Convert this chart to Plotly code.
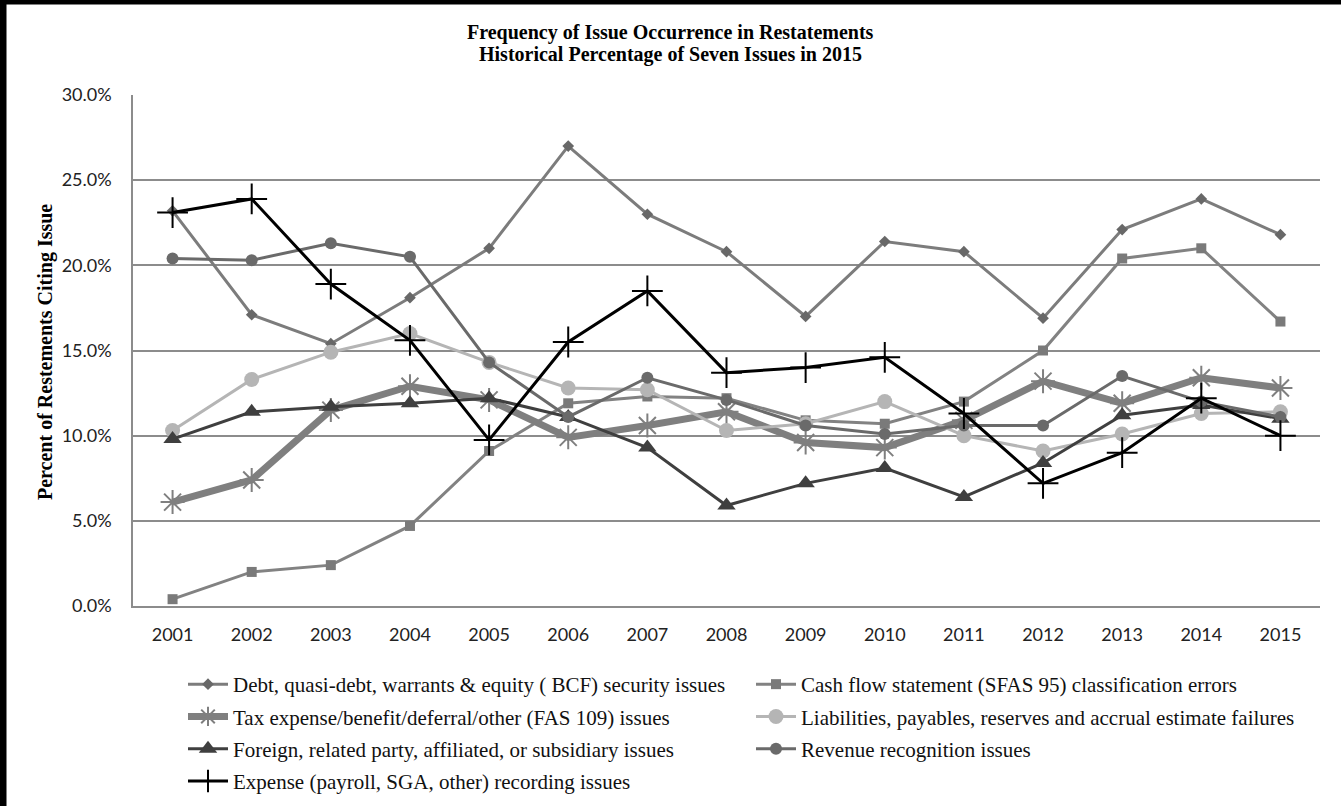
import plotly.graph_objects as go

years = ["2001", "2002", "2003", "2004", "2005", "2006", "2007", "2008",
         "2009", "2010", "2011", "2012", "2013", "2014", "2015"]

debt = [23.2, 17.1, 15.4, 18.1, 21.0, 27.0, 23.0, 20.8, 17.0, 21.4, 20.8, 16.9, 22.1, 23.9, 21.8]
cash_flow = [0.4, 2.0, 2.4, 4.7, 9.1, 11.9, 12.3, 12.2, 10.9, 10.7, 12.0, 15.0, 20.4, 21.0, 16.7]
tax = [6.1, 7.4, 11.5, 12.9, 12.1, 9.9, 10.6, 11.4, 9.6, 9.3, 10.9, 13.2, 11.9, 13.4, 12.8]
liabilities = [10.3, 13.3, 14.9, 16.0, 14.3, 12.8, 12.7, 10.3, 10.7, 12.0, 10.0, 9.1, 10.1, 11.3, 11.4]
foreign = [9.8, 11.4, 11.7, 11.9, 12.2, 11.1, 9.3, 5.9, 7.2, 8.1, 6.4, 8.4, 11.2, 11.8, 11.0]
revenue = [20.4, 20.3, 21.3, 20.5, 14.3, 11.1, 13.4, 12.1, 10.6, 10.1, 10.6, 10.6, 13.5, 12.0, 11.1]
expense = [23.1, 23.9, 18.9, 15.6, 9.75, 15.5, 18.5, 13.7, 14.0, 14.6, 11.3, 7.2, 9.0, 12.2, 10.0]

names = [
    "Debt, quasi-debt, warrants & equity ( BCF) security issues",
    "Cash flow statement (SFAS 95) classification errors",
    "Tax expense/benefit/deferral/other (FAS 109) issues",
    "Liabilities, payables, reserves and accrual estimate failures",
    "Foreign, related party, affiliated, or subsidiary issues",
    "Revenue recognition issues",
    "Expense (payroll, SGA, other) recording issues",
]

styles = [
    dict(values=debt, color="#7c7c7c", mcolor="#686868", width=3, symbol="diamond", size=9, mline=0, leg="legend"),
    dict(values=cash_flow, color="#828282", mcolor="#7a7a7a", width=3, symbol="square", size=10, mline=0, leg="legend2"),
    dict(values=tax, color="#7f7f7f", mcolor="#7f7f7f", width=7, symbol="asterisk-open", size=20, mline=2, leg="legend"),
    dict(values=liabilities, color="#b5b5b5", mcolor="#b5b5b5", width=3, symbol="circle", size=15, mline=0, leg="legend2"),
    dict(values=foreign, color="#3f3f3f", mcolor="#3f3f3f", width=3, symbol="triangle-up", size=16, mline=0, leg="legend"),
    dict(values=revenue, color="#6a6a6a", mcolor="#6a6a6a", width=3, symbol="circle", size=12, mline=0, leg="legend2"),
    dict(values=expense, color="#000000", mcolor="#000000", width=3, symbol="cross-thin-open", size=22, mline=2, leg="legend"),
]

fig = go.Figure()
for i, (name, s) in enumerate(zip(names, styles)):
    fig.add_trace(go.Scatter(
        x=years, y=s["values"], name=name, mode="lines+markers",
        legend=s["leg"], legendgroup="g%d" % i,
        line=dict(color=s["color"], width=s["width"]),
        marker=dict(symbol=s["symbol"], size=s["size"], color=s["mcolor"],
                    line=dict(color=s["mcolor"], width=s["mline"])),
    ))

W, H = 1341, 806
L, R, T, B = 133, 21, 95, 200
PW, PH = W - L - R, H - T - B


def px(x):
    return (x - L) / PW


def py(y):
    return (H - B - y) / PH


legend_common = dict(
    orientation="v", xref="container", yref="container",
    xanchor="left", yanchor="top",
    font=dict(family="Liberation Serif", size=21, color="#111111"),
    itemwidth=40, bgcolor="rgba(0,0,0,0)", tracegroupgap=2,
    traceorder="grouped",
)

fig.update_layout(
    width=W, height=H,
    margin=dict(l=L, r=R, t=T, b=B, autoexpand=False),
    paper_bgcolor="white", plot_bgcolor="white",
    showlegend=True,
    legend=dict(legend_common, x=183 / W, y=1 - 664 / H),
    legend2=dict(legend_common, x=751 / W, y=1 - 664 / H),
    xaxis=dict(
        type="category", range=[-0.5, 14.5],
        showgrid=False, showline=True, linecolor="#8c8c8c", linewidth=2,
        ticks="", tickfont=dict(family="Lato", size=18, color="#222222"),
        ticklabelstandoff=11, fixedrange=True,
    ),
    yaxis=dict(
        range=[0, 30], dtick=5, tickformat=".1f", ticksuffix="%",
        showgrid=True, gridcolor="#8c8c8c", gridwidth=1.5,
        showline=True, linecolor="#8c8c8c", linewidth=1.5,
        zeroline=False, ticks="",
        tickfont=dict(family="Lato", size=18, color="#222222"),
        ticklabelstandoff=16, fixedrange=True,
    ),
    annotations=[
        dict(text="Frequency of Issue Occurrence in Restatements",
             xref="paper", yref="paper", x=px(W / 2), y=py(33),
             xanchor="center", yanchor="middle", showarrow=False,
             font=dict(family="Liberation Serif", size=20, color="#000000", weight="bold")),
        dict(text="Historical Percentage of Seven Issues in 2015",
             xref="paper", yref="paper", x=px(W / 2), y=py(54),
             xanchor="center", yanchor="middle", showarrow=False,
             font=dict(family="Liberation Serif", size=20, color="#000000", weight="bold")),
        dict(text="Percent of Restements Citing Issue", textangle=-90,
             xref="paper", yref="paper", x=px(45), y=py(352),
             xanchor="center", yanchor="middle", showarrow=False,
             font=dict(family="Liberation Serif", size=20, color="#000000", weight="bold")),
    ],
    shapes=[
        dict(type="line", xref="paper", yref="paper", x0=px(3), x1=px(3),
             y0=py(H), y1=py(0), line=dict(color="black", width=7)),
        dict(type="line", xref="paper", yref="paper", x0=px(0), x1=px(W),
             y0=py(2), y1=py(2), line=dict(color="black", width=5)),
    ],
)

fig.write_html("out.html")
